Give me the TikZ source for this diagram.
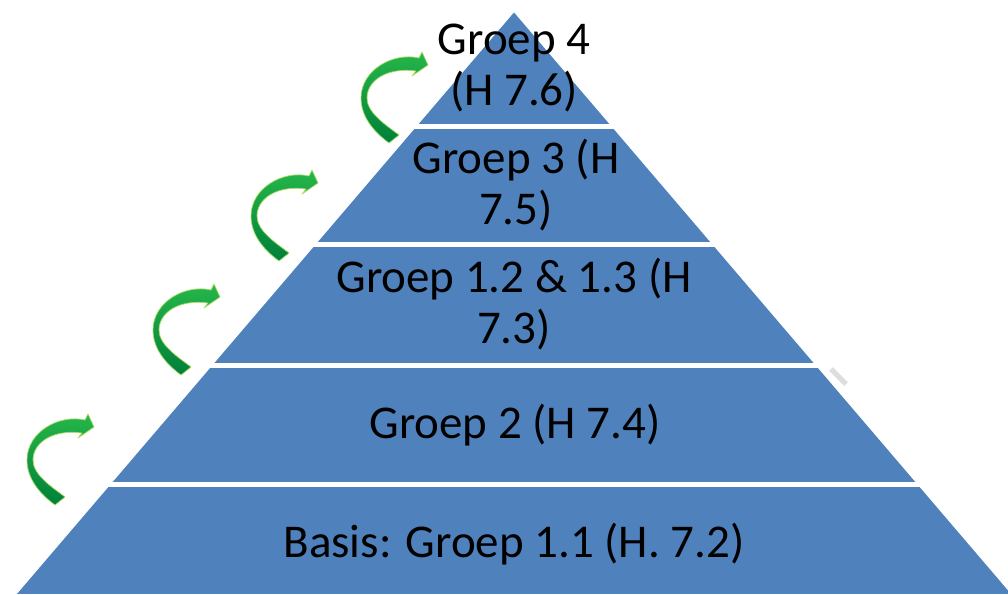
\documentclass[tikz,border=0pt]{standalone}
\usepackage{fontspec}
\setmainfont{Carlito}
\begin{document}
\begin{tikzpicture}[x=1pt,y=-1pt,
  layerfill/.style={fill={rgb,255:red,79;green,129;blue,189}},
  label/.style={font=\fontsize{47}{51}\selectfont, text=black, align=center, anchor=base, inner sep=0pt},
  steparrow/.pic={
    \shade[top color={rgb,255:red,38;green,182;blue,74}, bottom color={rgb,255:red,0;green,128;blue,58},
           draw={rgb,255:red,170;green,220;blue,100}, line width=0.7pt, line join=round]
      (0,0) -- (-6,-13) -- (-9,-7)
      .. controls (-35,-13) and (-67,5) .. (-67,33)
      .. controls (-67,52) and (-54,67) .. (-39,78)
      -- (-29,70)
      .. controls (-42,60) and (-61,48) .. (-61,33)
      .. controls (-61,15) and (-40,2) .. (-12,6)
      -- (-16,11) -- cycle;
  }]
\useasboundingbox (0,0) rectangle (1008,594);
\fill[white] (0,0) rectangle (1008,594);

% pyramid cut into five layers separated by white bands
\begin{scope}
  \clip (514,12.5) -- (17,594) -- (1011,594) -- cycle;
  \fill[layerfill] (0,0) rectangle (1008,124);
  \fill[layerfill] (0,129) rectangle (1008,242);
  \fill[layerfill] (0,247) rectangle (1008,363);
  \fill[layerfill] (0,368) rectangle (1008,482);
  \fill[layerfill] (0,487) rectangle (1008,594);
\end{scope}

% small grey mark beside the right edge
\draw[line width=5pt, color={rgb,255:red,221;green,221;blue,221}] (831,369) -- (846,384);

% layer labels (base anchor sits on the last line)
\node[label] (g4) at (514,105) {Groep 4\\(H 7.6)};
\node[label] (g3) at (516,224) {Groep 3 (H\\7.5)};
\node[label] (g12) at (514,343) {Groep 1.2 \& 1.3 (H\\7.3)};
\node[label] (g2) at (515,438) {Groep 2 (H 7.4)};
\node[label] (g11) at (514,557) {Basis: Groep 1.1 (H. 7.2)};

% curved arrows climbing the left side
\pic at (94,427) {steparrow};
\pic at (220,297) {steparrow};
\pic at (318,183) {steparrow};
\pic at (428,65) {steparrow};
\end{tikzpicture}
\end{document}
